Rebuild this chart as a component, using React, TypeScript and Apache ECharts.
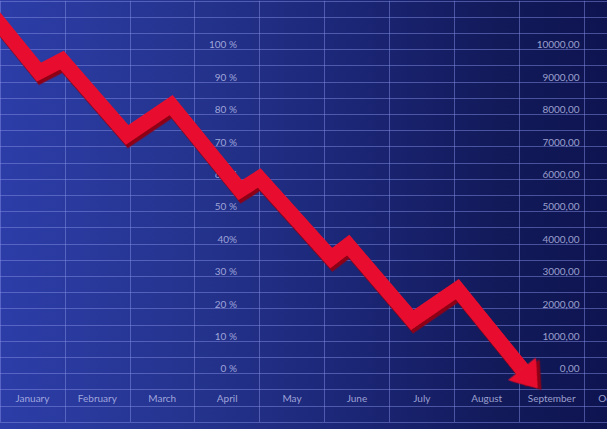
import React, { useEffect, useRef } from 'react';
import * as echarts from 'echarts';

const months = ['January', 'February', 'March', 'April', 'May', 'June', 'July', 'August', 'September', 'October'];
const pctLabels = ['0 %', '10 %', '20 %', '30 %', '40%', '50 %', '60 %', '70 %', '80 %', '90 %', '100 %'];
const valueLabels = ['0,00', '1000,00', '2000,00', '3000,00', '4000,00', '5000,00', '6000,00', '7000,00', '8000,00', '9000,00', '10000,00'];

// zigzag arrow path: x in month units, y in percent
const arrowX = [-0.15, 0.6, 0.955, 1.958, 2.637, 3.701, 3.994, 5.104, 5.366, 6.353, 7.047, 8.163];
const arrowY = [111.5, 93.0, 96.7, 73.6, 82.8, 56.6, 60.3, 35.6, 39.6, 16.5, 26.0, -1.6];
const headX = [8.163];
const headY = [-1.6];

export default function App() {
  const ref = useRef<HTMLDivElement>(null);
  useEffect(() => {
    const chart = echarts.init(ref.current!, null, { renderer: 'svg' });
    const rowLabel = (list: string[]) => (v: number) => {
      const k = Math.round(v);
      if (k >= 3 && k <= 23 && (k - 3) % 2 === 0) return list[(k - 3) / 2];
      return '';
    };
    const labelColor = 'rgba(196,200,240,0.78)';
    const gridLine = 'rgba(130,140,225,0.5)';
    chart.setOption({
      animation: false,
      backgroundColor: 'transparent',
      grid: { left: 0, right: 0, top: 0.8, bottom: 7, containLabel: false },
      xAxis: [
        {
          type: 'category',
          data: months,
          boundaryGap: true,
          axisLine: { show: false },
          axisTick: { show: false },
          axisLabel: {
            inside: true,
            margin: 24,
            verticalAlign: 'middle',
            color: labelColor,
            fontFamily: 'Lato',
            fontSize: 10,
            interval: 0,
          },
          splitLine: { show: true, lineStyle: { color: gridLine, width: 1 } },
          z: 1,
        },
        { type: 'value', min: 0, max: 10, show: false },
      ],
      yAxis: [
        {
          type: 'value',
          min: 0,
          max: 26,
          interval: 1,
          position: 'left',
          axisLine: { show: false },
          axisTick: { show: false },
          axisLabel: {
            margin: -237,
            align: 'right',
            verticalAlign: 'bottom',
            color: labelColor,
            fontFamily: 'Lato',
            fontSize: 10,
            formatter: rowLabel(pctLabels),
          },
          splitLine: { show: true, lineStyle: { color: gridLine, width: 1 } },
        },
        {
          type: 'value',
          min: 0,
          max: 26,
          interval: 1,
          position: 'right',
          axisLine: { show: false },
          axisTick: { show: false },
          axisLabel: {
            margin: -69.5,
            align: 'right',
            verticalAlign: 'bottom',
            color: labelColor,
            fontFamily: 'Lato',
            fontSize: 10,
            formatter: rowLabel(valueLabels),
          },
          splitLine: { show: false },
        },
        { type: 'value', min: -15, max: 115, show: false },
      ],
      series: [
        {
          type: 'line',
          xAxisIndex: 1,
          yAxisIndex: 2,
          data: arrowX.map((x, i) => [x, arrowY[i]]),
          symbol: 'none',
          clip: false,
          z: 5,
          lineStyle: {
            width: 15,
            color: '#e8102e',
            join: 'miter',
            miterLimit: 10,
            cap: 'butt',
            shadowColor: '#8e0416',
            shadowOffsetX: 2,
            shadowOffsetY: 3.5,
            shadowBlur: 0,
          },
        },
        {
          type: 'scatter',
          xAxisIndex: 1,
          yAxisIndex: 2,
          data: headX.map((x, i) => [x, headY[i]]),
          symbol: 'triangle',
          symbolSize: [36, 25],
          symbolRotate: -141,
          clip: false,
          z: 6,
          itemStyle: {
            color: '#e8102e',
            opacity: 1,
            shadowColor: '#8e0416',
            shadowOffsetX: 2,
            shadowOffsetY: 3.5,
            shadowBlur: 0,
          },
        },
      ],
    });
    return () => chart.dispose();
  }, []);
  return (
    <div
      style={{
        position: 'fixed',
        left: 0,
        top: 0,
        width: 607,
        height: 429,
        overflow: 'hidden',
        background: 'linear-gradient(90deg, #2c3da8 0%, #25348f 30%, #1b2676 58%, #121a5a 82%, #0e1450 100%)',
      }}
    >
      <div ref={ref} style={{ position: 'absolute', left: 0, top: 0, width: 648.5, height: 429 }} />
    </div>
  );
}
